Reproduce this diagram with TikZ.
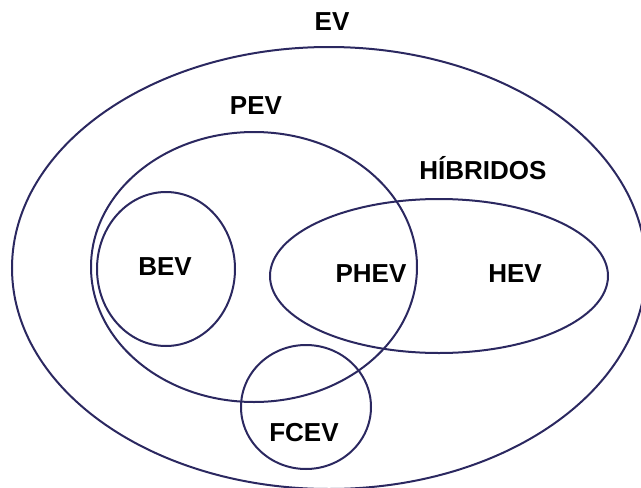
\documentclass[tikz,border=0pt]{standalone}
\usepackage{fontspec}
\setmainfont{Liberation Sans}
\definecolor{setline}{HTML}{2B2860}
\definecolor{ink}{HTML}{000000}

\begin{document}
\begin{tikzpicture}[x=1pt,y=-1pt]
 \tikzstyle{setname}=[font=\fontsize{26}{30}\selectfont\bfseries,text=ink,inner sep=0pt]
 \tikzstyle{setedge}=[draw=setline,line width=2pt]
 \useasboundingbox (0,0) rectangle (641,488);
 \clip (0,0) rectangle (641,488);
 \draw[setedge] (329,268) ellipse [x radius=317pt,y radius=221pt];
 \draw[setedge] (254,267) ellipse [x radius=163pt,y radius=135pt];
 \draw[setedge] (166,269) ellipse [x radius=69pt,y radius=77pt];
 \draw[setedge] (439,276) ellipse [x radius=169pt,y radius=77pt];
 \draw[setedge] (306,407) ellipse [x radius=65pt,y radius=62pt];
 \node[setname] (ev) at (332,22) {EV};
 \node[setname] (pev) at (256,106) {PEV};
 \node[setname] (hibridos) at (483,168) {HÍBRIDOS};
 \node[setname] (bev) at (165,267) {BEV};
 \node[setname] (phev) at (371,274) {PHEV};
 \node[setname] (hev) at (515,274) {HEV};
 \node[setname] (fcev) at (304,433) {FCEV};
\end{tikzpicture}
\end{document}
